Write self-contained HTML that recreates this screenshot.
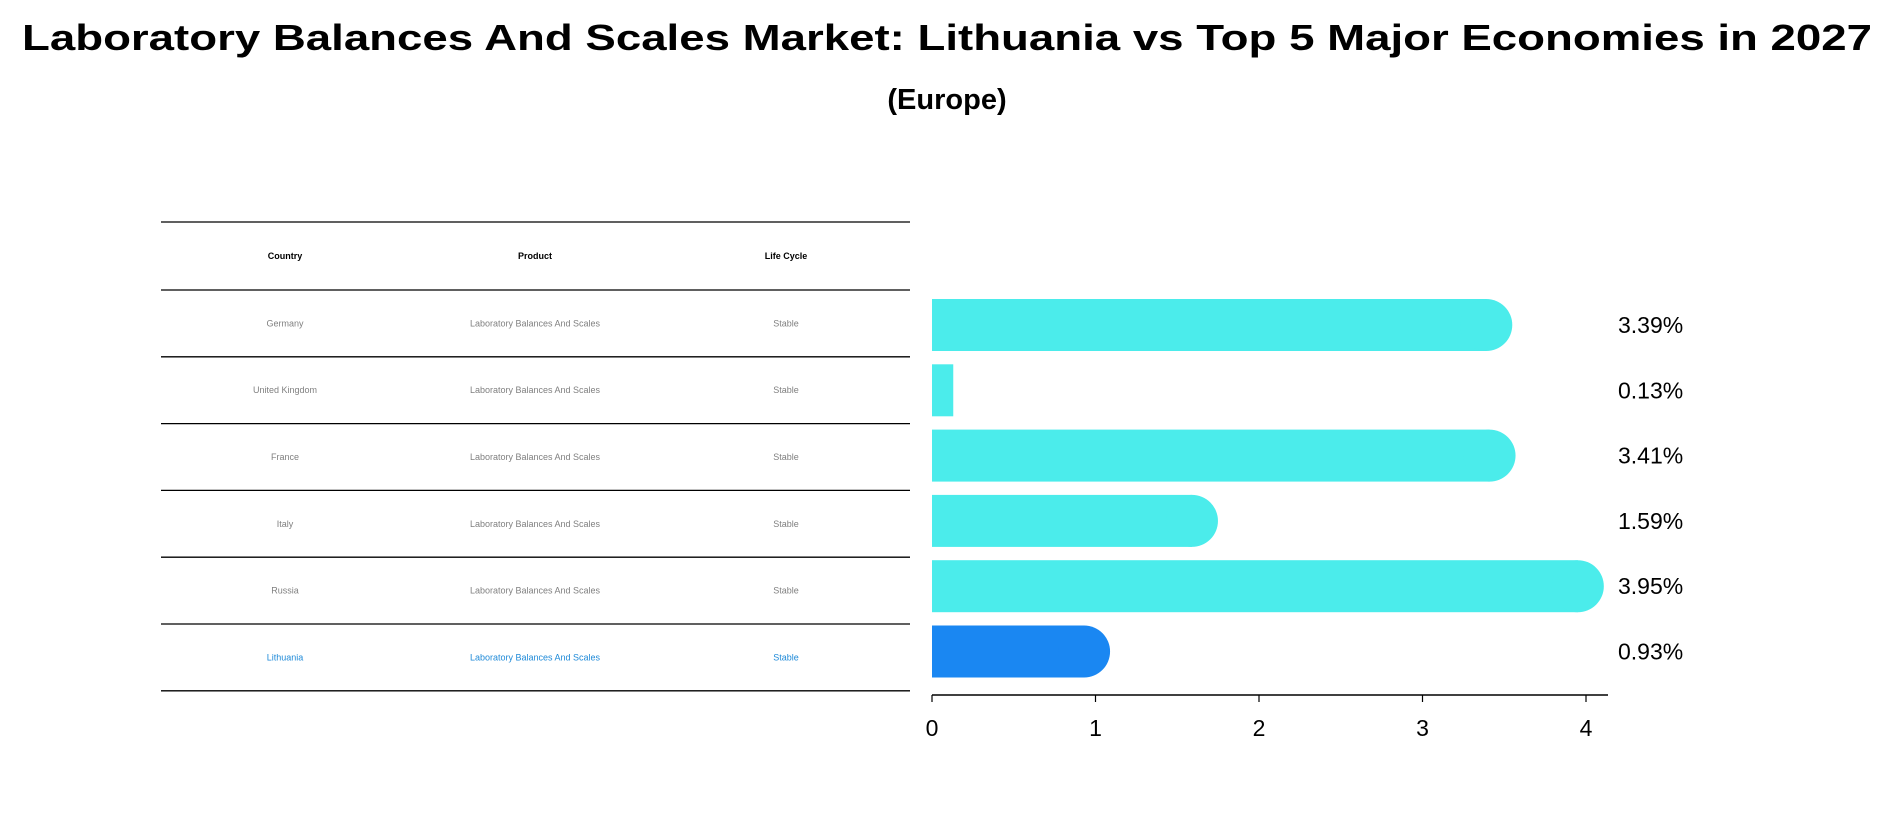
<!DOCTYPE html>
<html><head><meta charset="utf-8"><style>
body{margin:0;background:#fff;}
svg{display:block;font-family:"Liberation Sans","DejaVu Sans",sans-serif;}
</style></head><body>
<svg id="chart" width="1895" height="823" viewBox="0 0 1895 823">
<text x="947" y="50" text-anchor="middle" font-size="36" font-weight="bold" textLength="1850" lengthAdjust="spacingAndGlyphs">Laboratory Balances And Scales Market: Lithuania vs Top 5 Major Economies in 2027</text>
<text x="947" y="109" text-anchor="middle" font-size="29" font-weight="bold">(Europe)</text>
<g id="table"></g>
<g id="bars"></g>
</svg>
<script>
const countries=["Germany","United Kingdom","France","Italy","Russia","Lithuania"];
const products=["Laboratory Balances And Scales","Laboratory Balances And Scales","Laboratory Balances And Scales","Laboratory Balances And Scales","Laboratory Balances And Scales","Laboratory Balances And Scales"];
const lifeCycles=["Stable","Stable","Stable","Stable","Stable","Stable"];
const values=[3.39,0.13,3.41,1.59,3.95,0.93];
const valueLabels=["3.39%","0.13%","3.41%","1.59%","3.95%","0.93%"];
const xTicks=[0,1,2,3,4];
const NS="http://www.w3.org/2000/svg";
function mk(tag,attrs,parent){const e=document.createElementNS(NS,tag);for(const k in attrs)e.setAttribute(k,attrs[k]);parent.appendChild(e);return e;}
const tbl=document.getElementById('table');
const tx0=161,tx1=910,rowTop=222,headH=68,rowH=66.8;
const colX=[285,535,786];
function line(y){const l=mk('line',{x1:tx0,x2:tx1,y1:y,y2:y,stroke:'#000','stroke-width':1.3},tbl);

}
line(rowTop);line(rowTop+headH);
["Country","Product","Life Cycle"].forEach((h,i)=>{const t=mk('text',{x:colX[i],y:rowTop+headH/2+3,'text-anchor':'middle','font-size':9,'font-weight':'bold'},tbl);t.textContent=h;

});
countries.forEach((c,r)=>{const cy=rowTop+headH+rowH*(r+0.5)+3;const col=r===countries.length-1?'#1f8ad8':'#808080';
[c,products[r],lifeCycles[r]].forEach((v,i)=>{const t=mk('text',{x:colX[i],y:cy,'text-anchor':'middle','font-size':9,fill:col},tbl);t.textContent=v;

});
line(rowTop+headH+rowH*(r+1));});
const bg=document.getElementById('bars');
const x0=932,unit=163.5,yc0=325,step=65.3,bh=52;
function xs(v){return x0+v*unit;}
values.forEach((v,i)=>{const yc=yc0+step*i;const col=i===values.length-1?'#1a87f2':'#4beceb';const w=xs(v)-x0;
const r=mk('rect',{x:x0,y:yc-bh/2,width:w,height:bh,fill:col},bg);


if(v>0.5){const c=mk('ellipse',{cx:xs(v),cy:yc,rx:bh/2,ry:bh/2,fill:col},bg);

}
const t=mk('text',{x:1618,y:yc+8,'font-size':23},bg);t.textContent=valueLabels[i];

});
const ax=mk('line',{x1:x0,x2:1608,y1:695,y2:695,stroke:'#000','stroke-width':1.5},bg);


xTicks.forEach(v=>{const tk=mk('line',{x1:xs(v),x2:xs(v),y1:695,y2:702,stroke:'#000','stroke-width':1.2},bg);


const t=mk('text',{x:xs(v),y:736,'text-anchor':'middle','font-size':23},bg);t.textContent=v;

});
</script>
</body></html>
